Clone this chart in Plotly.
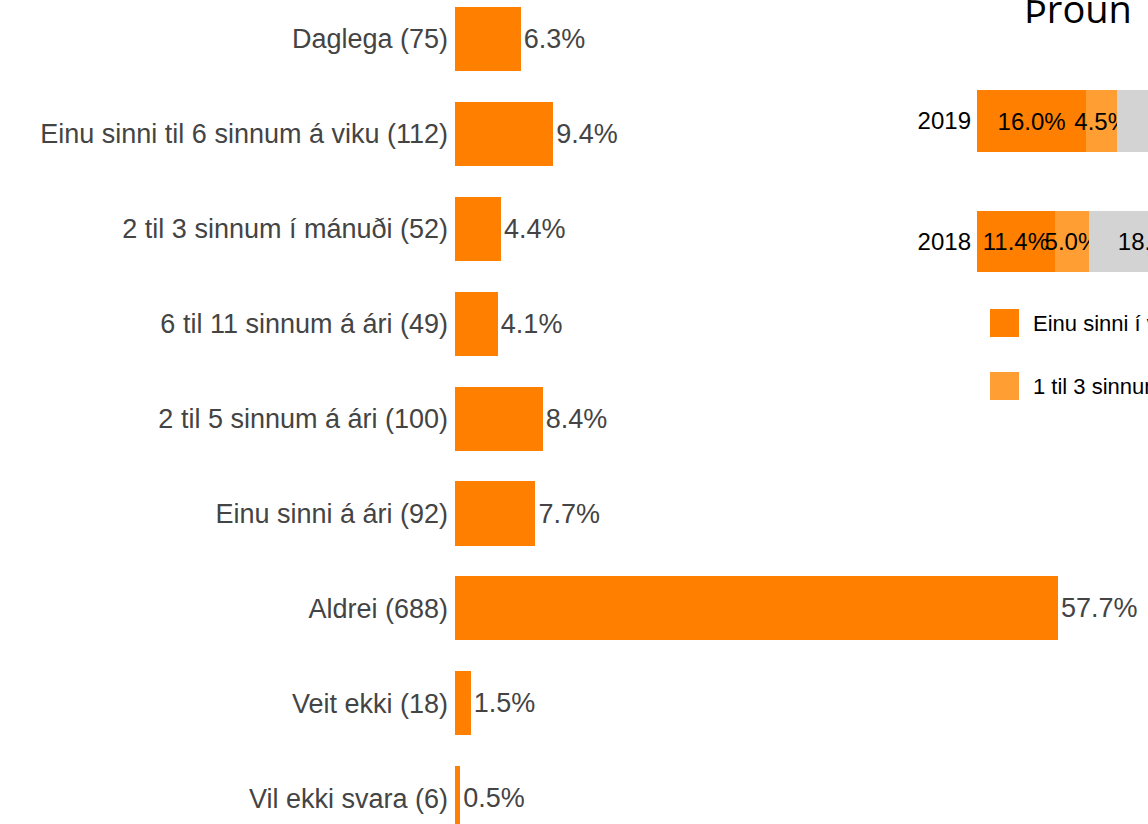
import plotly.graph_objects as go

# ---- main chart data ----
categories = ["Daglega", "Einu sinni til 6 sinnum á viku", "2 til 3 sinnum í mánuði",
              "6 til 11 sinnum á ári", "2 til 5 sinnum á ári", "Einu sinni á ári",
              "Aldrei", "Veit ekki", "Vil ekki svara"]
counts = [75, 112, 52, 49, 100, 92, 688, 18, 6]
percent = [6.3, 9.4, 4.4, 4.1, 8.4, 7.7, 57.7, 1.5, 0.5]

# ---- trend (inset) data ----
trend_title = "Þróun"
years = ["2018", "2019"]
trend_series = ["Einu sinni í viku eða oftar", "1 til 3 sinnum í mánuði", "Sjaldnar", "Aldrei"]
trend_2018 = [11.4, 5.0, 18.4, 65.2]
trend_2019 = [16.0, 4.5, 20.6, 58.9]

# ---- styles ----
W, H = 1148, 824
ORANGE = "#FF8000"
series_colors = ["#FF8000", "#FF9F33", "#D3D3D3", "#A6A6A6"]
FONT = "Liberation Sans, Arial, sans-serif"

labels = [f"{c} ({n})" for c, n in zip(categories, counts)]

fig = go.Figure()

fig.add_trace(go.Bar(
    x=percent, y=labels, orientation="h",
    marker=dict(color=ORANGE, line=dict(width=0)),
    width=0.675,
    text=[f"{v:.1f}%" for v in percent], textposition="outside",
    textfont=dict(size=27, color="#444444", family=FONT),
    cliponaxis=False, showlegend=False, xaxis="x", yaxis="y",
))

for i, name in enumerate(trend_series):
    vals = [trend_2018[i], trend_2019[i]]
    fig.add_trace(go.Bar(
        x=vals, y=years, orientation="h", name=name,
        marker=dict(color=series_colors[i], line=dict(width=0)),
        width=0.51,
        text=[f"{v:.1f}%" for v in vals], textposition="inside", textangle=0,
        insidetextanchor="middle", constraintext="none",
        textfont=dict(size=24, color="black", family=FONT),
        showlegend=False, xaxis="x2", yaxis="y2",
    ))

def px(x):
    return x / W

def py(y):
    return 1 - y / H

# manual legend (first two entries are within the visible area)
shapes = []
annotations = []
for i, name in enumerate(trend_series[:2]):
    top = 309 + i * 63
    shapes.append(dict(type="rect", xref="paper", yref="paper",
                       x0=px(990), x1=px(1019), y0=py(top + 28), y1=py(top),
                       fillcolor=series_colors[i], line=dict(width=0)))
    annotations.append(dict(text=name, xref="paper", yref="paper",
                            x=px(1031), y=py(top + 14), xanchor="left", yanchor="middle",
                            showarrow=False, font=dict(size=22, color="black", family=FONT)))

annotations.append(dict(text=trend_title, xref="paper", yref="paper",
                        x=px(1022), y=py(8), xanchor="left", yanchor="middle",
                        showarrow=False, font=dict(size=38, color="black", family="Open Sans")))

step = 94.9
top_r = -39 / step
bot_r = top_r + H / step

fig.update_layout(
    width=W, height=H, margin=dict(l=0, r=0, t=0, b=0),
    paper_bgcolor="white", plot_bgcolor="rgba(0,0,0,0)",
    barmode="stack", showlegend=False,
    font=dict(family=FONT),
    xaxis=dict(domain=[px(455), 1], range=[0, (W - 455) / 10.45], visible=False, anchor="y"),
    yaxis=dict(type="category", categoryorder="array", categoryarray=labels,
               range=[bot_r, top_r], showgrid=False, zeroline=False, showline=False,
               ticks="", ticklabelstandoff=6, automargin=False,
               tickfont=dict(size=27, color="#444444", family=FONT), anchor="x"),
    xaxis2=dict(domain=[px(977), 1], range=[0, (W - 977) / 6.83], visible=False, anchor="y2"),
    yaxis2=dict(type="category", categoryorder="array", categoryarray=years,
                domain=[py(301.75), py(60.75)], showgrid=False, zeroline=False, showline=False,
                ticks="", ticklabelstandoff=5, automargin=False,
                tickfont=dict(size=24, color="black", family=FONT), anchor="x2"),
    shapes=shapes, annotations=annotations,
)

fig.write_html("out.html", config={"displayModeBar": False},
               post_script="document.body.style.margin='0';document.body.style.overflow='hidden';")
